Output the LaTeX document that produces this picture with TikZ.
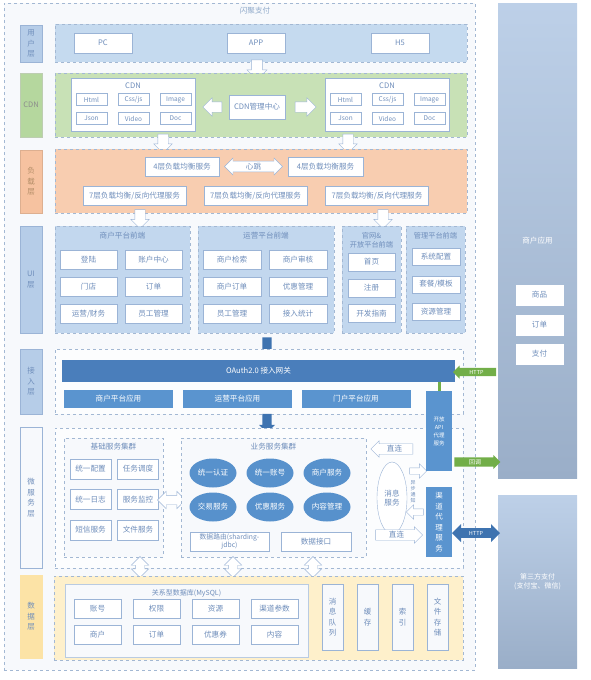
\documentclass[tikz,border=0pt]{standalone}
\usepackage{fontspec}
\setmainfont{Noto Sans CJK SC}
\usetikzlibrary{shapes.geometric, shapes.arrows}

\definecolor{frameline}{HTML}{A3B8D3}
\definecolor{outerfill}{HTML}{F7F9FC}
\definecolor{titletext}{HTML}{8FA9C9}
\definecolor{boxline}{HTML}{9BB4D6}
\definecolor{boxtext}{HTML}{6F8EBB}
\definecolor{userfill}{HTML}{C5DAEF}
\definecolor{userlab}{HTML}{B6CDE8}
\definecolor{cdnfill}{HTML}{C8E1B6}
\definecolor{cdnlab}{HTML}{B5D79E}
\definecolor{loadfill}{HTML}{F8CDB0}
\definecolor{loadlab}{HTML}{F6C2A0}
\definecolor{uifill}{HTML}{C2D7EE}
\definecolor{datafill}{HTML}{FEF0CB}
\definecolor{datalab}{HTML}{FCE3A6}
\definecolor{barblue}{HTML}{5A94CF}
\definecolor{gateblue}{HTML}{4A7EBB}
\definecolor{svcblue}{HTML}{5791CC}
\definecolor{arrowblue}{HTML}{3E73B0}
\definecolor{okgreen}{HTML}{72AE48}
\definecolor{paneltop}{HTML}{BDD0E8}
\definecolor{panelbot}{HTML}{9AAEC8}

\begin{document}
\begin{tikzpicture}[x=1pt, y=-1pt,
  every node/.style={font=\fontsize{7.6}{9}\selectfont, text=boxtext},
  layer/.style={draw=frameline, dashed, inner sep=0pt},
  lab/.style={draw=boxline, inner sep=0pt, minimum width=22pt, align=center,
              font=\fontsize{7.5}{10.5}\selectfont},
  wbox/.style={draw=boxline, fill=white, inner sep=0pt, align=center},
  bar/.style={fill=barblue, text=white, inner sep=0pt, align=center},
  svc/.style={ellipse, fill=svcblue, text=white, minimum width=47pt,
              minimum height=29pt, inner sep=0pt},
  harrow/.style={single arrow, draw=boxline, fill=white, minimum width=18pt,
                 single arrow head extend=4pt, inner sep=5pt},
  hdarrow/.style={double arrow, draw=boxline, fill=white, minimum width=17pt,
                  double arrow head extend=4pt, inner sep=4.5pt},
  tarrow/.style={single arrow, draw=boxline, fill=white, minimum width=15pt,
                 single arrow head extend=3pt, inner sep=1.5pt},
  sarrow/.style={single arrow, fill=arrowblue, minimum width=16pt,
                 single arrow head extend=3pt, inner sep=4pt, shape border rotate=270},
  panel/.style={inner sep=0pt, top color=paneltop, bottom color=panelbot,
                minimum width=79pt, text=white, align=center}
]
  \useasboundingbox (0,0) rectangle (590,680);
  \node[layer, fill=outerfill, minimum width=471pt, minimum height=667pt] (outer) at (239.5,336.5) {};
  \node[text=titletext] (title) at (255,11) {闪聚支付};

  % layer labels
  \node[lab, fill=userlab, minimum height=37pt] (labuser) at (31,43.5) {用\\户\\层};
  \node[lab, fill=cdnlab, draw=cdnlab!80!black!60, text=black!45, minimum height=64pt] (labcdn) at (31,105) {CDN};
  \node[lab, fill=loadlab, draw=loadlab!90!black, text=orange!50!black!60, minimum height=63pt] (labload) at (31,181.5) {负\\载\\层};
  \node[lab, fill=userlab, minimum height=107pt] (labui) at (31,279.5) {UI\\层};
  \node[lab, fill=userlab, minimum height=65pt] (labgate) at (31,381.5) {接\\入\\层};
  \node[lab, fill=outerfill, minimum height=141pt] (labsvc) at (31,497.5) {微\\服\\务\\层};
  \node[lab, fill=datalab, draw=datalab, minimum height=83pt] (labdata) at (31,616.5) {数\\据\\层};

  % user layer
  \node[layer, fill=userfill, minimum width=412pt, minimum height=38pt] (userlay) at (261,43) {};
  \foreach \x/\t/\n in {103/PC/pc, 256/APP/app, 400/H5/hfive}
    \node[wbox, minimum width=58pt, minimum height=20pt] (\n) at (\x,43) {\t};
  \node[harrow, shape border rotate=270, minimum height=20pt, minimum width=20pt] (appdown) at (257,67) {};

  % cdn layer
  \node[layer, fill=cdnfill, minimum width=412pt, minimum height=64pt] (cdnlay) at (261,105) {};
  \foreach \dx/\s in {0/l, 254/r}{
    \node[wbox, minimum width=124pt, minimum height=53pt] (cdn\s) at (133+\dx,104.5) {};
    \node (cdn\s t) at (133+\dx,86) {CDN};
    \foreach \t [count=\i from 0] in {Html,{Css/js},Image,Json,Video,Doc}
      \node[wbox, minimum width=31pt, minimum height=12pt, font=\fontsize{6.5}{7.5}\selectfont]
        (cdn\s\i) at ({91.5+42*mod(\i,3)+\dx},{99.5+19*int(\i/3)}) {\t};
  }
  \node[wbox, minimum width=56pt, minimum height=24pt] (cdnmgr) at (257,107) {CDN管理中心};
  \node[harrow, shape border rotate=180, minimum height=19pt] (toleft) at (215,107) {};
  \node[harrow, minimum height=21pt] (toright) at (303,107) {};
  \node[harrow, shape border rotate=270, minimum height=19pt] (cdnldown) at (163,141) {};
  \node[harrow, shape border rotate=270, minimum height=19pt] (cdnrdown) at (348,141) {};

  % load layer
  \node[layer, fill=loadfill, minimum width=412pt, minimum height=64pt] (loadlay) at (261,181) {};
  \node[wbox, minimum width=74pt, minimum height=19pt] (lbfa) at (182,166.5) {4层负载均衡服务};
  \node[wbox, minimum width=75pt, minimum height=19pt] (lbfb) at (325.5,166.5) {4层负载均衡服务};
  \node[double arrow, draw=boxline, fill=white, minimum width=17pt, double arrow head extend=3pt,
        inner sep=1.5pt, minimum height=58pt] (beat) at (253.5,166.5) {心跳};
  \foreach \x [count=\i] in {134.5,255.5,377}
    \node[wbox, minimum width=103pt, minimum height=19pt] (lbs\i) at (\x,195.5) {7层负载均衡/反向代理服务};
  \node[harrow, shape border rotate=270, minimum height=19pt] (lbdowna) at (140,216.5) {};
  \node[harrow, shape border rotate=270, minimum height=19pt] (lbdownb) at (383,216.5) {};

  % ui layer
  \node[layer, fill=uifill, minimum width=135pt, minimum height=107pt] (uimch) at (122.5,279.5) {};
  \node (uimcht) at (122.5,236) {商户平台前端};
  \foreach \t [count=\i from 0] in {登陆,账户中心,门店,订单,运营/财务,员工管理}
    \node[wbox, minimum width=57pt, minimum height=19pt] (mch\i) at ({88.5+65*mod(\i,2)},{259.5+27*int(\i/2)}) {\t};
  \node[layer, fill=uifill, minimum width=136pt, minimum height=107pt] (uiops) at (266,279.5) {};
  \node (uiopst) at (266,236) {运营平台前端};
  \foreach \t [count=\i from 0] in {商户检索,商户审核,商户订单,优惠管理,员工管理,接入统计}
    \node[wbox, minimum width=58pt, minimum height=19pt] (ops\i) at ({232+66*mod(\i,2)},{259.5+27*int(\i/2)}) {\t};
  \node[layer, fill=uifill, minimum width=59pt, minimum height=107pt] (uiweb) at (371.5,279.5) {};
  \node[align=center, font=\fontsize{7.2}{9}\selectfont] (uiwebt) at (371.5,240) {官网\&\\开放平台前端};
  \foreach \t [count=\i from 0] in {首页,注册,开发指南}
    \node[wbox, minimum width=47pt, minimum height=18pt] (web\i) at (371.5,{262+25.8*\i}) {\t};
  \node[layer, fill=uifill, minimum width=59pt, minimum height=107pt] (uiadm) at (435.5,279.5) {};
  \node[font=\fontsize{7.2}{9}\selectfont] (uiadmt) at (435.5,236) {管理平台前端};
  \foreach \t [count=\i from 0] in {系统配置,套餐/模板,资源管理}
    \node[wbox, minimum width=48pt, minimum height=17pt] (adm\i) at (436,{257+27.2*\i}) {\t};
  \node[sarrow, minimum height=22pt] (uidown) at (267,346) {};

  % gateway layer
  \node[layer, fill=outerfill!40!white, minimum width=408pt, minimum height=65pt] (gatelay) at (259,381.5) {};
  \node[bar, fill=gateblue, minimum width=393pt, minimum height=22pt] (oauth) at (258.5,371) {OAuth2.0 接入网关};
  \foreach \x/\t [count=\i] in {118.5/商户平台应用, 237.5/运营平台应用, 356/门户平台应用}
    \node[bar, minimum width=109pt, minimum height=18pt] (gw\i) at (\x,399) {\t};
  \node[sarrow, minimum height=19pt] (gwdown) at (267,421) {};

  % micro service layer
  \node[layer, fill=outerfill!40!white, minimum width=408pt, minimum height=140pt] (svclay) at (259,498) {};
  \node[layer, fill=outerfill, minimum width=99pt, minimum height=119pt] (base) at (113.5,497.5) {};
  \node (baset) at (113.5,447) {基础服务集群};
  \foreach \t [count=\i from 0] in {统一配置,任务调度,统一日志,服务监控,短信服务,文件服务}
    \node[wbox, minimum width=41pt, minimum height=20pt] (bs\i) at ({90.5+47.5*mod(\i,2)},{469+30.5*int(\i/2)}) {\t};
  \node[hdarrow, minimum height=28pt] (basebiz) at (171.5,500) {};
  \node[layer, fill=outerfill, minimum width=185pt, minimum height=119pt] (biz) at (273.5,497.5) {};
  \node (bizt) at (273.5,447) {业务服务集群};
  \foreach \x/\y/\t [count=\i] in {213/473/统一认证, 270/473/统一账号, 327/473/商户服务,
                                   213/507/交易服务, 270/507/优惠服务, 327/507/内容管理}
    \node[svc] (sv\i) at (\x,\y) {\t};
  \node[wbox, minimum width=79pt, minimum height=19pt, font=\fontsize{6.8}{7.5}\selectfont] (route) at (229.5,541.5) {数据路由(sharding-\\jdbc)};
  \node[wbox, minimum width=70pt, minimum height=19pt] (dataapi) at (316,541.5) {数据接口};
  \node[ellipse, draw=boxline, fill=white, minimum width=30pt, minimum height=72pt, inner sep=0pt, align=center] (msg) at (392,498) {消息\\服务};
  \node[tarrow, shape border rotate=180, minimum height=42pt] (directa) at (394.5,449) {直连};
  \node[tarrow, minimum height=47pt] (directb) at (396.5,535) {直连};
  \node[harrow, minimum height=17pt, minimum width=13pt, inner sep=3pt] (notifya) at (416.5,471) {};
  \node[harrow, shape border rotate=180, minimum height=17pt, minimum width=13pt, inner sep=3pt] (notifyb) at (416.5,512) {};
  \node[align=center, font=\fontsize{5}{6}\selectfont] (notifyt) at (413,491.5) {异\\步\\通\\知};

  % proxies
  \node[bar, minimum width=26pt, minimum height=80pt, font=\fontsize{5.5}{8}\selectfont] (api) at (439,431) {开放\\API\\代理\\服务};
  \node[bar, minimum width=26pt, minimum height=70pt, font=\fontsize{7.5}{10.5}\selectfont] (chan) at (439,522) {渠\\道\\代\\理\\服\\务};
  \draw[okgreen, line width=3pt] (api.north |- oauth.south) -- (api.north);

  % data layer
  \foreach \x [count=\i] in {140,233,313}
    \node[hdarrow, shape border rotate=90, minimum height=21pt, minimum width=15pt] (dbv\i) at (\x,567) {};
  \node[layer, fill=datafill, minimum width=409pt, minimum height=84pt] (datalay) at (258.5,618) {};
  \node[draw=boxline!70, fill=outerfill, minimum width=243pt, minimum height=73pt, inner sep=0pt] (mysql) at (186.5,620.5) {};
  \node[font=\fontsize{7}{8}\selectfont] (mysqlt) at (186.5,593) {关系型数据库(MySQL)};
  \foreach \t [count=\i from 0] in {账号,权限,资源,渠道参数,商户,订单,优惠券,内容}
    \node[wbox, minimum width=47pt, minimum height=19pt] (db\i) at ({97.5+59*mod(\i,4)},{608.5+26.5*int(\i/4)}) {\t};
  \foreach \x/\t [count=\i] in {332.5/{消\\息\\队\\列}, 367.5/{缓\\存}, 402.5/{索\\引}, 437.5/{文\\件\\存\\储}}
    \node[wbox, fill=outerfill, minimum width=21pt, minimum height=66pt, font=\fontsize{7.5}{10.5}\selectfont] (store\i) at (\x,617) {\t};

  % outside parties
  \node[panel, minimum height=475pt] (merchant) at (537.5,240.5) {商户应用};
  \foreach \y/\t [count=\i] in {295/商品, 325/订单, 354/支付}
    \node[wbox, draw=white, minimum width=47pt, minimum height=20pt] (mer\i) at (539.5,\y) {\t};
  \node[panel, minimum height=173pt, font=\fontsize{7}{9.5}\selectfont] (third) at (537.5,581.5) {第三方支付\\(支付宝、微信)};

  \node[single arrow, fill=okgreen, text=white, shape border rotate=180, minimum height=43pt, minimum width=13pt,
        single arrow head extend=2pt, inner sep=1pt, font=\fontsize{5.5}{6}\selectfont] (httpa) at (476.5,372) {HTTP};
  \node[single arrow, fill=okgreen, text=white, minimum height=46pt, minimum width=14pt,
        single arrow head extend=2pt, inner sep=1pt, font=\fontsize{6}{6.5}\selectfont] (callback) at (475,462) {回调};
  \node[double arrow, fill=arrowblue, text=white, minimum height=48pt, minimum width=18pt,
        double arrow head extend=3pt, inner sep=1.5pt, font=\fontsize{5.5}{6}\selectfont] (httpb) at (476,533) {HTTP};
\end{tikzpicture}
\end{document}
